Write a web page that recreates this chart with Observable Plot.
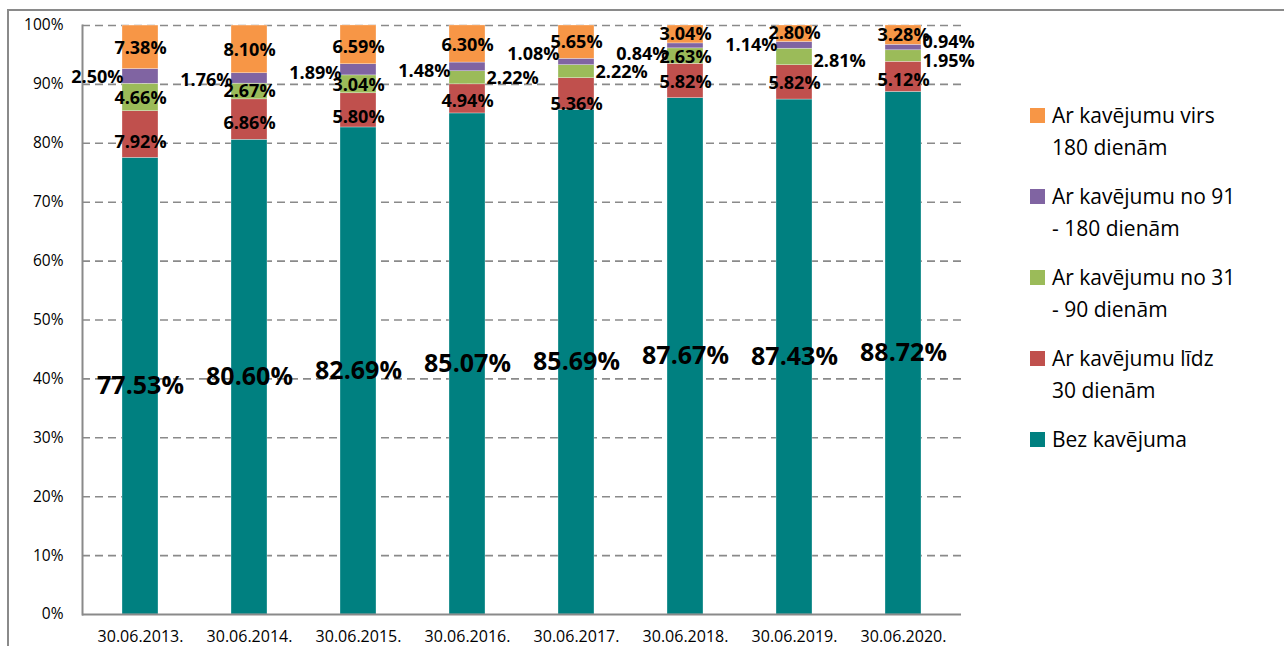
<!DOCTYPE html>
<html>
<head>
<meta charset="utf-8">
<script src="https://cdn.jsdelivr.net/npm/d3@7"></script>
<script src="https://cdn.jsdelivr.net/npm/@observablehq/plot@0.6"></script>
<style>
  html, body { margin: 0; padding: 0; background: #fff; overflow: hidden; }
  #wrap { position: relative; width: 1284px; height: 646px; font-family: "Open Sans", sans-serif; }
  #frame { position: absolute; left: 7px; top: 9px; width: 1300px; height: 700px; border: 2px solid #8a8a8a; box-sizing: border-box; }
  #chart { position: absolute; left: 0; top: 0; }
  #legend { position: absolute; left: 1030px; top: 99px; color: #000; font-size: 21px; }
  .item { display: flex; align-items: flex-start; margin-bottom: 17px; line-height: 32px; }
  .sw { width: 15px; height: 15px; margin-top: 9px; flex: none; }
  .lbl { margin-left: 7px; }
</style>
</head>
<body>
<div id="wrap">
  <div id="frame"></div>
  <div id="chart"></div>
  <div id="legend"></div>
</div>
<script>
// ---- data ----
const dates = ["30.06.2013.", "30.06.2014.", "30.06.2015.", "30.06.2016.", "30.06.2017.", "30.06.2018.", "30.06.2019.", "30.06.2020."];
const seriesNames = ["Bez kavējuma", "Ar kavējumu līdz 30 dienām", "Ar kavējumu no 31 - 90 dienām", "Ar kavējumu no 91 - 180 dienām", "Ar kavējumu virs 180 dienām"];
const bez     = [77.53, 80.60, 82.69, 85.07, 85.69, 87.67, 87.43, 88.72];
const lidz30  = [7.92, 6.86, 5.80, 4.94, 5.36, 5.82, 5.82, 5.12];
const no31_90 = [4.66, 2.67, 3.04, 2.22, 2.22, 2.63, 2.81, 1.95];
const no91_180 = [2.50, 1.76, 1.89, 1.48, 1.08, 0.84, 1.14, 0.94];
const virs180 = [7.38, 8.10, 6.59, 6.30, 5.65, 3.04, 2.80, 3.28];
const yTicks = [0, 10, 20, 30, 40, 50, 60, 70, 80, 90, 100];
const legendLines = [
  ["Ar kavējumu virs", "180 dienām"],
  ["Ar kavējumu no 91", "- 180 dienām"],
  ["Ar kavējumu no 31", "- 90 dienām"],
  ["Ar kavējumu līdz", "30 dienām"],
  ["Bez kavējuma"]
];
const colors = ["#008080", "#C0504D", "#9BBB59", "#8064A2", "#F79646"];

// label placement (c = centre, l = left of bar, r = right of bar)
const labelSide = [
  ["c","c","c","c","c","c","c","c"],
  ["c","c","c","c","c","c","c","c"],
  ["c","c","c","r","r","c","r","r"],
  ["l","l","l","l","l","l","l","r"],
  ["c","c","c","c","c","c","c","c"]
];
// small vertical nudges of labels, in pixels (positive = down)
const labelNudge = [
  [0, 0, 0, 0, 0, 0, 0, 0],
  [8, 4, 7, 2, 10, 1, 1, 3],
  [1, 0, 1, 0, 1, 1, 4, 5],
  [1, 2, 3, 4, -8, 8, 0, -5],
  [1, 1, 2, 1, 0, 0, -1, 0]
];

const seriesValues = [bez, lidz30, no31_90, no91_180, virs180];
const pxPerUnit = (646 - 25 - 32) / 100;
const table = [];
seriesNames.forEach((s, si) => {
  dates.forEach((d, di) => {
    const base = seriesValues.slice(0, si).reduce((a, arr) => a + arr[di], 0);
    const v = seriesValues[si][di];
    table.push({date: d, series: s, si, value: v, side: labelSide[si][di],
      mid: base + v / 2 - labelNudge[si][di] / pxPerUnit});
  });
});

const gray = "#8a8a8a";
const fmt = v => v.toFixed(2) + "%";
const small = {fontSize: 18, fontWeight: "bold", fill: "#000"};

const plot = Plot.plot({
  width: 1010,
  height: 646,
  marginLeft: 82,
  marginRight: 49,
  marginTop: 25,
  marginBottom: 32,
  style: {fontFamily: "Open Sans, sans-serif", background: "transparent", overflow: "visible"},
  x: {domain: dates, paddingInner: 0.672, paddingOuter: 0.336, label: null},
  y: {domain: [0, 100], label: null},
  color: {domain: seriesNames, range: colors},
  marks: [
    Plot.ruleY(yTicks.filter(t => t > 0), {stroke: gray, strokeWidth: 1.6, strokeDasharray: "8,5"}),
    Plot.barY(table, {x: "date", y: "value", fill: "series", stroke: "#ffffff", strokeWidth: 0.5, strokeOpacity: 0.6}),
    Plot.ruleY([0], {stroke: gray, strokeWidth: 2}),
    Plot.frame({anchor: "left", stroke: gray, strokeWidth: 2}),
    Plot.axisY({ticks: yTicks, tickSize: 0, tickPadding: 19, tickFormat: d => d + "%", fontSize: 15.5, fill: "#000", label: null}),
    Plot.axisX({tickSize: 0, tickPadding: 16, fontSize: 16, fill: "#000", label: null}),
    Plot.text(table.filter(d => d.si === 0), {x: "date", y: "mid", text: d => fmt(d.value), fontSize: 25, fontWeight: "bold", fill: "#000"}),
    Plot.text(table.filter(d => d.si > 0 && d.side === "c"), {x: "date", y: "mid", text: d => fmt(d.value), ...small}),
    Plot.text(table.filter(d => d.side === "l"), {x: "date", y: "mid", text: d => fmt(d.value), textAnchor: "end", dx: -17, ...small}),
    Plot.text(table.filter(d => d.side === "r"), {x: "date", y: "mid", text: d => fmt(d.value), textAnchor: "start", dx: 19, ...small})
  ]
});
document.getElementById("chart").appendChild(plot);

// legend (top to bottom: reverse stack order)
const legend = document.getElementById("legend");
const order = [4, 3, 2, 1, 0];
order.forEach((si, k) => {
  const item = document.createElement("div");
  item.className = "item";
  const sw = document.createElement("div");
  sw.className = "sw";
  sw.style.background = colors[si];
  const lbl = document.createElement("div");
  lbl.className = "lbl";
  lbl.innerHTML = legendLines[k].join("<br>");
  item.appendChild(sw);
  item.appendChild(lbl);
  legend.appendChild(item);
});
</script>
</body>
</html>
